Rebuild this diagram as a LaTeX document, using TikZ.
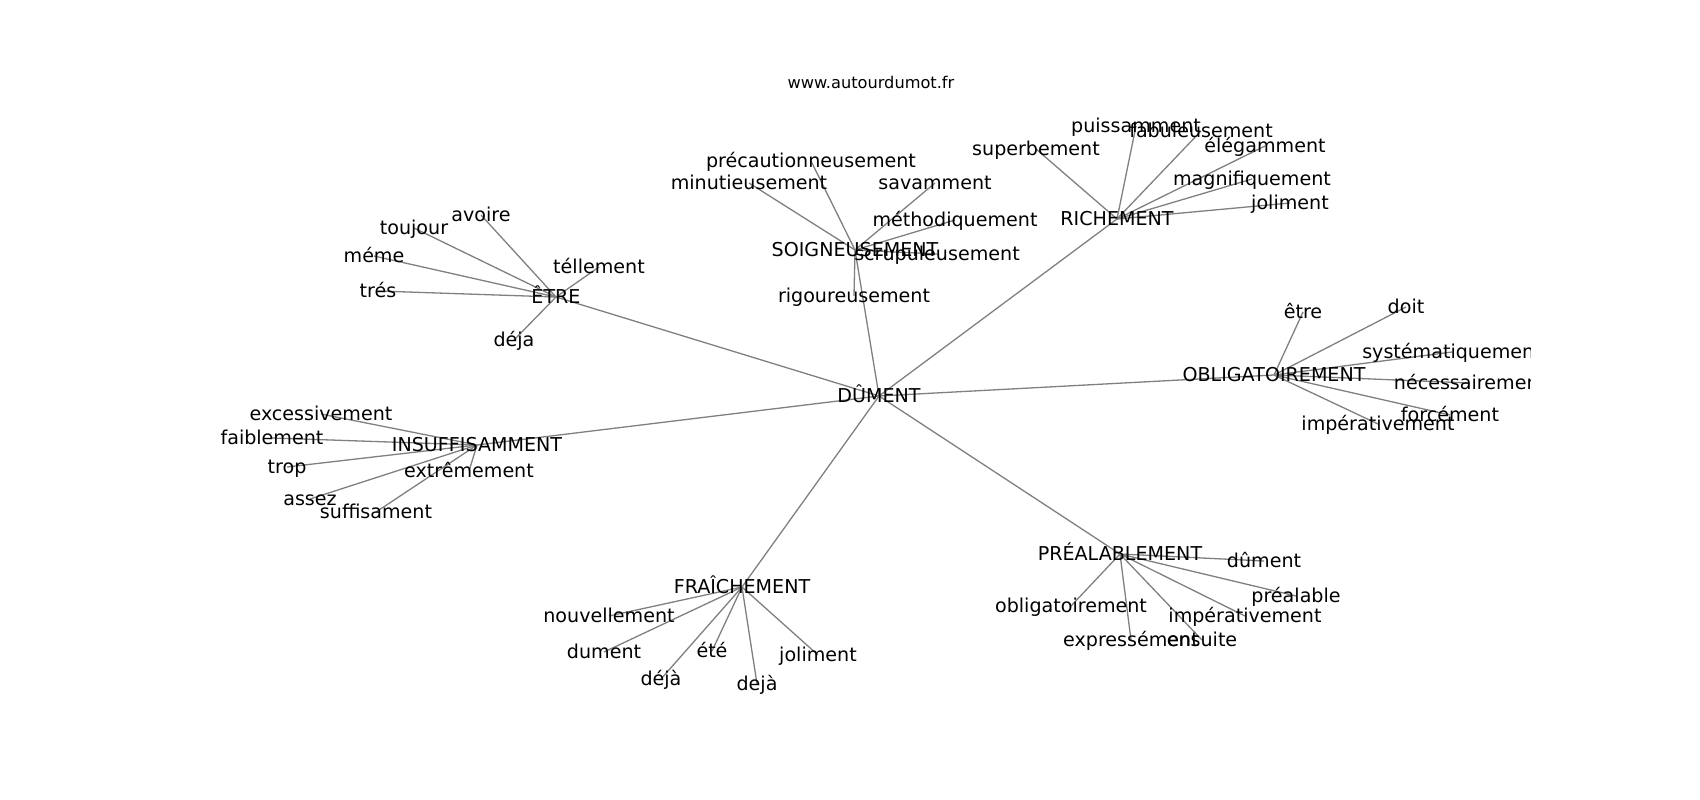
\documentclass[tikz,border=0pt]{standalone}
\usepackage{fontspec}
\setmainfont{DejaVu Sans}
\usetikzlibrary{backgrounds}
\tikzset{
  word/.style={inner sep=0pt, outer sep=0pt, anchor=center, text height=16pt, text depth=4pt, font=\fontsize{19.1}{23}\selectfont},
  titletext/.style={inner sep=0pt, anchor=center, text height=12.3pt, text depth=3.4pt, font=\fontsize{16.2}{19}\selectfont},
  link/.style={draw=black!50, line width=1.3pt}
}
\begin{document}
\begin{tikzpicture}[x=1pt,y=-1pt]
\useasboundingbox (0,0) rectangle (1700,800);
\node[titletext] (title) at (871,84) {www.autourdumot.fr};
\begin{scope}
\clip (212.5,96) rectangle (1530,712);
% hub
\node[word] (hub) at (879,396) {DÛMENT};
% SOIGNEUSEMENT
\node[word] (soign) at (855,250) {SOIGNEUSEMENT};
\node[word] (precaution) at (811,161) {précautionneusement};
\node[word] (minut) at (749,183) {minutieusement};
\node[word] (savam) at (935,183) {savamment};
\node[word] (method) at (955,220) {méthodiquement};
\node[word] (scrup) at (937,254) {scrupuleusement};
\node[word] (rigour) at (854,296) {rigoureusement};
% RICHEMENT
\node[word] (riche) at (1117,219) {RICHEMENT};
\node[word] (superb) at (1036,149) {superbement};
\node[word] (puiss) at (1136,126) {puissamment};
\node[word] (fabul) at (1201,131) {fabuleusement};
\node[word] (elegam) at (1265,146) {élégamment};
\node[word] (magnif) at (1252,179) {magnifiquement};
\node[word] (joliR) at (1290,203) {joliment};
% ETRE
\node[word] (etreC) at (556,297) {ÊTRE};
\node[word] (avoire) at (481,215) {avoire};
\node[word] (toujour) at (414,228) {toujour};
\node[word] (meme) at (374,256) {méme};
\node[word] (tres) at (378,291) {trés};
\node[word] (tellem) at (599,267) {téllement};
\node[word] (dejaE) at (514,340) {déja};
% OBLIGATOIREMENT
\node[word] (oblig) at (1274,375) {OBLIGATOIREMENT};
\node[word] (etre) at (1303,312) {être};
\node[word] (doit) at (1406,307) {doit};
\node[word] (system) at (1452,352) {systématiquement};
\node[word] (necess) at (1470,383) {nécessairement};
\node[word] (forcem) at (1450,415) {forcément};
\node[word] (imperO) at (1378,424) {impérativement};
% INSUFFISAMMENT
\node[word] (insuff) at (477,445) {INSUFFISAMMENT};
\node[word] (excess) at (321,414) {excessivement};
\node[word] (faibl) at (272,438) {faiblement};
\node[word] (trop) at (287,467) {trop};
\node[word] (extrem) at (469,471) {extrêmement};
\node[word] (assez) at (310,499) {assez};
\node[word] (suffis) at (376,512) {suffisament};
% FRAICHEMENT
\node[word] (fraich) at (742,587) {FRAÎCHEMENT};
\node[word] (nouvel) at (609,616) {nouvellement};
\node[word] (dumentF) at (604,652) {dument};
\node[word] (dejaF) at (661,679) {déjà};
\node[word] (ete) at (712,651) {été};
\node[word] (dejaG) at (757,684) {dejà};
\node[word] (joliF) at (818,655) {joliment};
% PREALABLEMENT
\node[word] (prealab) at (1120,554) {PRÉALABLEMENT};
\node[word] (dumentP) at (1264,561) {dûment};
\node[word] (prealable) at (1296,596) {préalable};
\node[word] (obligP) at (1071,606) {obligatoirement};
\node[word] (imperP) at (1245,616) {impérativement};
\node[word] (express) at (1131,640) {expressément};
\node[word] (ensuite) at (1202,640) {ensuite};
\end{scope}
\begin{scope}[on background layer]
\fill[white] (0,0) rectangle (1700,800);
\foreach \a in {soign,riche,etreC,oblig,insuff,fraich,prealab}
  \draw[link] (hub.center) -- (\a.center);
\foreach \a in {precaution,minut,savam,method,scrup,rigour}
  \draw[link] (soign.center) -- (\a.center);
\foreach \a in {superb,puiss,fabul,elegam,magnif,joliR}
  \draw[link] (riche.center) -- (\a.center);
\foreach \a in {avoire,toujour,meme,tres,tellem,dejaE}
  \draw[link] (etreC.center) -- (\a.center);
\foreach \a in {etre,doit,system,necess,forcem,imperO}
  \draw[link] (oblig.center) -- (\a.center);
\foreach \a in {excess,faibl,trop,extrem,assez,suffis}
  \draw[link] (insuff.center) -- (\a.center);
\foreach \a in {nouvel,dumentF,dejaF,ete,dejaG,joliF}
  \draw[link] (fraich.center) -- (\a.center);
\foreach \a in {dumentP,prealable,obligP,imperP,express,ensuite}
  \draw[link] (prealab.center) -- (\a.center);
\end{scope}
\end{tikzpicture}
\end{document}
